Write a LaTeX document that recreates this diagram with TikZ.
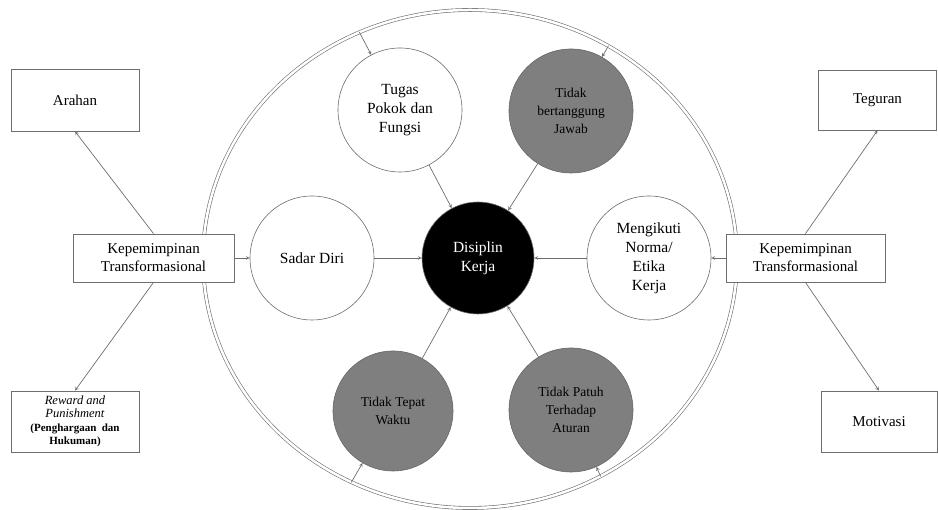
\documentclass[tikz,border=0pt]{standalone}
\usepackage{fontspec}
\setmainfont{LiberationSerif}[Extension = .ttf, UprightFont = *-Regular, BoldFont = *-Bold, ItalicFont = *-Italic, BoldItalicFont = *-BoldItalic]
\usetikzlibrary{shapes.geometric}
\definecolor{customgray}{HTML}{7f7f7f}
\definecolor{customline}{HTML}{6e6e6e}

\begin{document}
\begin{tikzpicture}[
        box/.style = {fill = white, draw = customline, rectangle, line width = 0.8pt, align = center, inner sep = 0pt, font = \fontsize{15}{18}\selectfont},
        plain/.style = {fill = white, draw = customline, circle, line width = 0.6pt, minimum size = 124pt, inner sep = 0pt, align = center, font = \fontsize{15.5}{19}\selectfont},
        shaded/.style = {plain, fill = customgray, draw = black!60, font = \fontsize{13.5}{18}\selectfont},
        link/.style = {->, > = stealth, draw = customline, line width = 0.7pt}
    ]

        \useasboundingbox (0pt, 0pt) rectangle (938pt, 510pt);

        % Outer Frame
        \node [ellipse, draw = customline, double, double distance = 2.5pt, line width = 0.6pt, minimum width = 534pt, minimum height = 498pt] (frame) at (470pt, 251pt) {};

        % Circles
        \node [plain] (tugas) at (400pt, 400pt) {Tugas\\Pokok dan\\Fungsi};
        \node [shaded] (jawab) at (571pt, 399pt) {Tidak\\bertanggung\\Jawab};
        \node [plain] (sadar) at (312pt, 252pt) {Sadar Diri};
        \node [plain, fill = black, text = white, minimum size = 112pt] (disiplin) at (478pt, 252pt) {Disiplin\\Kerja};
        \node [plain] (norma) at (649pt, 252pt) {Mengikuti\\Norma/\\Etika\\Kerja};
        \node [shaded, minimum size = 120pt] (tepat) at (393pt, 99pt) {Tidak Tepat\\Waktu};
        \node [shaded] (patuh) at (571pt, 100pt) {Tidak Patuh\\Terhadap\\Aturan};

        % Boxes
        \node [box, minimum width = 128pt, minimum height = 62pt] (arahan) at (75pt, 410pt) {Arahan};
        \node [box, minimum width = 161pt, minimum height = 48pt] (leaderl) at (153.5pt, 252pt) {Kepemimpinan\\Transformasional};
        \node [box, minimum width = 128pt, minimum height = 61pt, font = \fontsize{11}{13.5}\selectfont] (reward) at (75pt, 88.5pt) {{\fontsize{12.5}{13.5}\selectfont\textit{Reward and}}\\{\fontsize{12.5}{13.5}\selectfont\textit{Punishment}}\\\textbf{(Penghargaan\ \ dan}\\\textbf{Hukuman)}};
        \node [box, minimum width = 118pt, minimum height = 60pt] (teguran) at (877.5pt, 410pt) {Teguran};
        \node [box, minimum width = 159pt, minimum height = 48pt] (leaderr) at (805.5pt, 252pt) {Kepemimpinan\\Transformasional};
        \node [box, minimum width = 116pt, minimum height = 61pt] (motivasi) at (879pt, 88.5pt) {Motivasi};

        % Leader Direction
        \draw [link] (leaderl.north) -- (arahan.south);
        \draw [link] (leaderl.south) -- (reward.north);
        \draw [link] (leaderr.north) -- (teguran.south);
        \draw [link] (leaderr.south) -- (motivasi.north);
        \draw [link] (leaderl) -- (sadar);
        \draw [link] (leaderr) -- (norma);

        % Inner Direction
        \draw [link] (sadar) -- (disiplin);
        \draw [link] (norma) -- (disiplin);
        \draw [link] (tugas) -- (disiplin);
        \draw [link] (jawab) -- (disiplin);
        \draw [link] (tepat) -- (disiplin);
        \draw [link] (patuh) -- (disiplin);

        % Frame Direction
        \draw [link] (frame.116) -- (tugas);
        \draw [link] (frame.57) -- (jawab);
        \draw [link] (frame.242) -- (tepat);
        \draw [link] (frame.301) -- (patuh);

    \end{tikzpicture}
\end{document}
